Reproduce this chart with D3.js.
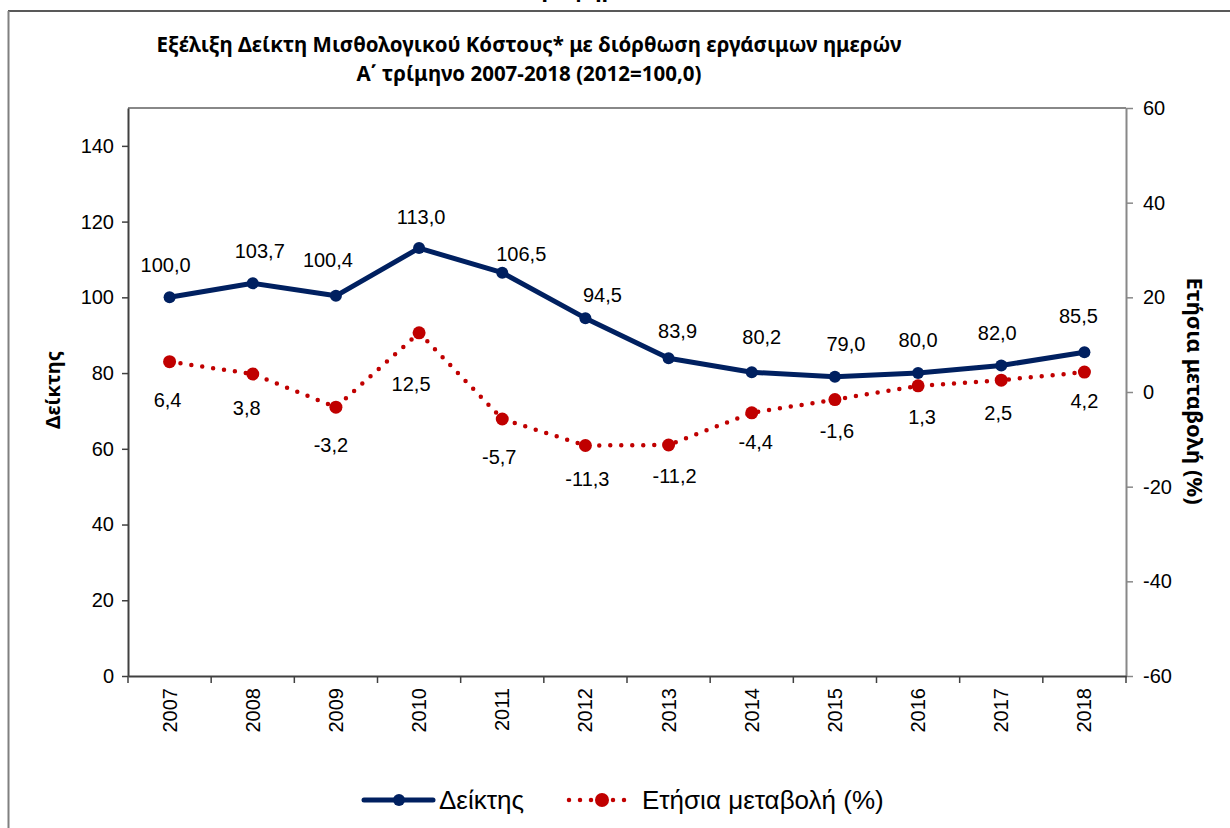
<!DOCTYPE html>
<meta charset="utf-8">
<style>
body{margin:0;background:#fff;}
svg text{font-family:"Liberation Sans",Arial,sans-serif;fill:#000;}
svg .bold{font-family:"Noto Sans","Open Sans",sans-serif;font-weight:bold;}
</style>
<svg id="chart" width="1230" height="828"></svg>
<script src="https://d3js.org/d3.v7.min.js"></script>
<script>
// values
const years = ['2007','2008','2009','2010','2011','2012','2013','2014','2015','2016','2017','2018']
const indexValues = [100.0, 103.7, 100.4, 113.0, 106.5, 94.5, 83.9, 80.2, 79.0, 80.0, 82.0, 85.5]
const changeValues = [6.4, 3.8, -3.2, 12.5, -5.7, -11.3, -11.2, -4.4, -1.6, 1.3, 2.5, 4.2]
const leftTicks = [0, 20, 40, 60, 80, 100, 120, 140]
const rightTicks = [-60, -40, -20, 0, 20, 40, 60]
const titleLines = ['Εξέλιξη Δείκτη Μισθολογικού Κόστους* με διόρθωση εργάσιμων ημερών',
                    'Α΄ τρίμηνο 2007-2018 (2012=100,0)']

// the labels in the original were nudged by hand, so keep those nudges (px) apart
const indexNudge = [[-4,-32],[7,-32],[-8,-36],[2,-31],[19,-19],[17,-23],[9,-27],[10,-35],[11,-33],[0,-33],[-4,-32],[-6,-36]]
const changeNudge = [[-2,38],[-6,34],[-5,38],[-8,51],[-3,38],[2,34],[6,31],[4,29],[2,31],[4,31],[-3,33],[0,29]]

const NAVY = '#002060', RED = '#c00000'
// greek style numbers: comma decimal, plain hyphen as minus
const loc = d3.formatLocale({decimal: ',', thousands: '.', grouping: [3], currency: ['', '€'], minus: '-'})
const fmt = loc.format('.1f')
const fmtTick = loc.format('d')

const svg = d3.select('#chart')
const pLeft = 128, pRight = 1126, pTop = 108, pBottom = 676

const x = d3.scaleBand().domain(years).range([pLeft, pRight])
const cx = d => x(d) + x.bandwidth() / 2
const yL = d3.scaleLinear().domain([0, 150]).range([pBottom, pTop])
const yR = d3.scaleLinear().domain([-60, 60]).range([pBottom, pTop])

// outer frame (only top and left show in the crop)
svg.append('line').attr('x1', 8).attr('x2', 1230).attr('y1', 11).attr('y2', 11)
  .attr('stroke', '#222').attr('stroke-width', 1.5)
svg.append('line').attr('x1', 8.5).attr('x2', 8.5).attr('y1', 11).attr('y2', 828)
  .attr('stroke', '#808080').attr('stroke-width', 2)
// cut-off caption above the frame
svg.append('text').attr('class', 'bold').attr('x', 590).attr('y', -3)
  .attr('text-anchor', 'middle').style('font-size', '22px').text('Γράφημα 1')

// titles
svg.selectAll('text.title').data(titleLines).join('text').attr('class', 'title bold')
  .attr('x', 529).attr('y', (d, i) => 52 + i * 29)
  .attr('text-anchor', 'middle').style('font-size', '20.5px').text(d => d)

// plot top border
svg.append('line').attr('x1', pLeft).attr('x2', pRight).attr('y1', pTop).attr('y2', pTop)
  .attr('stroke', '#888').attr('stroke-width', 2)

// left axis
const gL = svg.append('g').attr('transform', `translate(${pLeft},0)`)
  .call(d3.axisLeft(yL).tickValues(leftTicks).tickFormat(fmtTick).tickSize(6).tickPadding(8).tickSizeOuter(0))
gL.select('.domain').attr('stroke', '#404040').attr('stroke-width', 2)
gL.selectAll('.tick line').attr('stroke', '#404040').attr('stroke-width', 1.5)
gL.selectAll('.tick text').style('font-size', '20px').attr('fill', '#000')

// right axis
const gR = svg.append('g').attr('transform', `translate(${pRight},0)`)
  .call(d3.axisRight(yR).tickValues(rightTicks).tickFormat(fmtTick).tickSize(7).tickPadding(10).tickSizeOuter(0))
gR.select('.domain').attr('stroke', '#888').attr('stroke-width', 2)
gR.selectAll('.tick line').attr('stroke', '#888').attr('stroke-width', 1.5)
gR.selectAll('.tick text').style('font-size', '20px').attr('fill', '#000')

// bottom axis: labels at band centres, ticks at band edges
const gB = svg.append('g').attr('transform', `translate(0,${pBottom})`)
  .call(d3.axisBottom(x).tickSize(0).tickSizeOuter(0))
gB.select('.domain').attr('stroke', '#404040').attr('stroke-width', 2)
gB.selectAll('.tick text').style('font-size', '20px').attr('fill', '#000')
  .attr('text-anchor', 'end').attr('dominant-baseline', 'central')
  .attr('transform', 'translate(0,12) rotate(-90)').attr('x', 0).attr('y', 0).attr('dy', null)
const edges = years.map(d => x(d)).concat([pRight])
gB.selectAll('line.edge').data(edges).join('line').attr('class', 'edge')
  .attr('x1', d => d).attr('x2', d => d).attr('y1', 0).attr('y2', 7)
  .attr('stroke', '#404040').attr('stroke-width', 1.5)

// axis titles
svg.append('text').attr('class', 'bold').attr('transform', 'translate(52,390) rotate(-90)')
  .attr('text-anchor', 'middle').attr('dominant-baseline', 'central')
  .style('font-size', '20px').text('Δείκτης')
svg.append('text').attr('class', 'bold').attr('transform', 'translate(1196,391) rotate(90)')
  .attr('text-anchor', 'middle').attr('dominant-baseline', 'central')
  .style('font-size', '22px').text('Ετήσια μεταβολή (%)')

// series: annual change (dotted red)
const changeLine = d3.line().x((d, i) => cx(years[i])).y(d => yR(d))
svg.append('path').datum(changeValues).attr('d', changeLine)
  .attr('fill', 'none').attr('stroke', RED).attr('stroke-width', 4.5)
  .attr('stroke-linecap', 'round').attr('stroke-dasharray', '0 11')
svg.selectAll('circle.chg').data(changeValues).join('circle').attr('class', 'chg')
  .attr('cx', (d, i) => cx(years[i])).attr('cy', d => yR(d)).attr('r', 6.5).attr('fill', RED)

// series: index (solid navy)
const indexLine = d3.line().x((d, i) => cx(years[i])).y(d => yL(d))
svg.append('path').datum(indexValues).attr('d', indexLine)
  .attr('fill', 'none').attr('stroke', NAVY).attr('stroke-width', 5).attr('stroke-linejoin', 'round')
svg.selectAll('circle.idx').data(indexValues).join('circle').attr('class', 'idx')
  .attr('cx', (d, i) => cx(years[i])).attr('cy', d => yL(d)).attr('r', 6).attr('fill', NAVY)

// data labels
svg.selectAll('text.lblIdx').data(indexValues).join('text').attr('class', 'lblIdx')
  .attr('x', (d, i) => cx(years[i]) + indexNudge[i][0]).attr('y', (d, i) => yL(d) + indexNudge[i][1])
  .attr('text-anchor', 'middle').attr('dominant-baseline', 'central')
  .style('font-size', '20px').text(fmt)
svg.selectAll('text.lblChg').data(changeValues).join('text').attr('class', 'lblChg')
  .attr('x', (d, i) => cx(years[i]) + changeNudge[i][0]).attr('y', (d, i) => yR(d) + changeNudge[i][1])
  .attr('text-anchor', 'middle').attr('dominant-baseline', 'central')
  .style('font-size', '20px').text(fmt)

// legend
const lg = svg.append('g').attr('transform', 'translate(0,800)')
lg.append('line').attr('x1', 364).attr('x2', 433).attr('stroke', NAVY).attr('stroke-width', 5)
  .attr('stroke-linecap', 'round')
lg.append('circle').attr('cx', 399).attr('r', 6).attr('fill', NAVY)
lg.append('text').attr('x', 439).attr('dominant-baseline', 'central').style('font-size', '26px').text('Δείκτης')
lg.append('line').attr('x1', 569).attr('x2', 630).attr('stroke', RED).attr('stroke-width', 4.5)
  .attr('stroke-linecap', 'round').attr('stroke-dasharray', '0 11')
lg.append('circle').attr('cx', 602).attr('r', 7).attr('fill', RED)
lg.append('text').attr('x', 642).attr('dominant-baseline', 'central').style('font-size', '26px').text('Ετήσια μεταβολή (%)')
</script>
